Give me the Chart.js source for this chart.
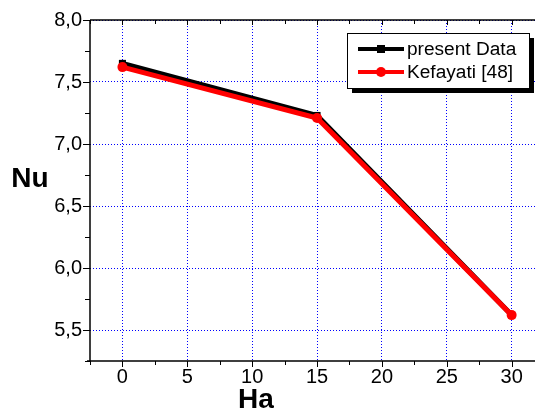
<!DOCTYPE html>
<html>
<head>
<meta charset="utf-8">
<script src="https://cdn.jsdelivr.net/npm/chart.js@4.4.1/dist/chart.umd.min.js"></script>
<style>
  html, body { margin: 0; padding: 0; background: #fff; overflow: hidden; }
  #wrap { width: 535px; height: 413px; position: relative; }
</style>
</head>
<body>
<div id="wrap"><canvas id="chart" width="535" height="413"></canvas></div>
<script>
// data
var haValues = [0, 15, 30];
var presentData = [7.65, 7.23, 5.62];
var kefayati = [7.62, 7.21, 5.62];
var xTicks = [0, 5, 10, 15, 20, 25, 30];
var yTicks = [5.5, 6.0, 6.5, 7.0, 7.5, 8.0];
var seriesNames = ['present Data', 'Kefayati [48]'];

var FONT = '"Liberation Sans", Arial, sans-serif';

function toPoints(xs, ys) {
  return xs.map(function(x, i) { return { x: x, y: ys[i] }; });
}

// axes, minor ticks, axis titles and the boxed legend
var framePlugin = {
  id: 'frame',
  afterDraw: function(chart) {
    var ctx = chart.ctx;
    var area = chart.chartArea;
    var xs = chart.scales.x, ys = chart.scales.y;
    ctx.save();
    ctx.strokeStyle = '#000';
    ctx.lineWidth = 1.5;
    ctx.beginPath();
    ctx.moveTo(area.left, area.top);
    ctx.lineTo(area.left, area.bottom);
    ctx.moveTo(area.left - 3, area.bottom);
    ctx.lineTo(chart.width, area.bottom);
    ctx.moveTo(area.left, area.top);
    ctx.lineTo(chart.width, area.top);
    ctx.stroke();

    ctx.lineWidth = 1;
    ctx.beginPath();
    // x ticks (major + minor), bottom outward, top inward
    for (var v = -2.5; v <= xs.max; v += 2.5) {
      var px = Math.round(xs.getPixelForValue(v)) + 0.5;
      var major = Math.abs(v % 5) < 0.01;
      ctx.moveTo(px, area.bottom);
      ctx.lineTo(px, area.bottom + (major ? 6 : 4));
      ctx.moveTo(px, area.top);
      ctx.lineTo(px, area.top + (major ? 5 : 4));
    }
    // y ticks outward
    for (var w = 5.25; w <= 8.001; w += 0.25) {
      var py = Math.round(ys.getPixelForValue(w)) + 0.5;
      var maj = Math.abs((w * 2) - Math.round(w * 2)) < 0.01;
      ctx.moveTo(area.left, py);
      ctx.lineTo(area.left - (maj ? 7 : 5), py);
    }
    ctx.stroke();

    // axis titles
    ctx.fillStyle = '#000';
    ctx.font = 'bold 28px ' + FONT;
    ctx.textAlign = 'center';
    ctx.textBaseline = 'middle';
    ctx.fillText('Nu', 30, 179);
    ctx.fillText('Ha', 256, 400);

    // legend box with shadow
    var lx = 347, ly = 33, lw = 182, lh = 55;
    ctx.fillStyle = '#000';
    ctx.fillRect(lx + 5, ly + 5, lw, lh);
    ctx.fillStyle = '#fff';
    ctx.fillRect(lx, ly, lw, lh);
    ctx.strokeStyle = '#000';
    ctx.lineWidth = 1;
    ctx.strokeRect(lx + 0.5, ly + 0.5, lw, lh);

    var rows = [
      { y: 49, color: '#000', square: true },
      { y: 72, color: '#ff0000', square: false }
    ];
    ctx.font = '18px ' + FONT;
    ctx.textAlign = 'left';
    rows.forEach(function(r, i) {
      ctx.strokeStyle = r.color;
      ctx.fillStyle = r.color;
      ctx.lineWidth = 4;
      ctx.beginPath();
      ctx.moveTo(358, r.y);
      ctx.lineTo(404, r.y);
      ctx.stroke();
      if (r.square) {
        ctx.fillRect(377, r.y - 4, 8, 8);
      } else {
        ctx.beginPath();
        ctx.arc(381, r.y, 5, 0, Math.PI * 2);
        ctx.fill();
      }
      ctx.fillStyle = '#000';
      // source text is drawn slightly wide
      ctx.save();
      ctx.translate(407, r.y + 1);
      ctx.scale(1.06, 1);
      ctx.fillText(seriesNames[i], 0, 0);
      ctx.restore();
    });
    ctx.restore();
  }
};

var ctx = document.getElementById('chart').getContext('2d');
var chart = new Chart(ctx, {
  type: 'scatter',
  data: {
    datasets: [
      {
        label: seriesNames[0],
        data: toPoints(haValues, presentData),
        showLine: true,
        borderColor: '#000',
        backgroundColor: '#000',
        borderWidth: 5,
        pointStyle: 'rect',
        pointRadius: 5,
        pointBorderWidth: 0,
        order: 2
      },
      {
        label: seriesNames[1],
        data: toPoints(haValues, kefayati),
        showLine: true,
        borderColor: '#ff0000',
        backgroundColor: '#ff0000',
        borderWidth: 5,
        pointStyle: 'circle',
        pointRadius: 5,
        pointBorderWidth: 0,
        order: 1
      }
    ]
  },
  options: {
    responsive: false,
    animation: false,
    layout: { autoPadding: false, padding: { top: 20, right: 0, left: 0, bottom: 0 } },
    plugins: { legend: { display: false }, tooltip: { enabled: false } },
    scales: {
      x: {
        type: 'linear',
        min: -2.5,
        max: 31.8,
        afterBuildTicks: function(s) { s.ticks = xTicks.map(function(v) { return { value: v }; }); },
        afterFit: function(s) { s.height = 52; s.paddingLeft = 0; s.paddingRight = 0; },
        ticks: {
          color: '#000',
          font: { family: FONT, size: 20 },
          padding: 4,
          maxRotation: 0,
          autoSkip: false
        },
        grid: { color: '#0000ff', lineWidth: 1, drawTicks: false },
        border: { display: false, dash: [1, 2] }
      },
      y: {
        type: 'linear',
        min: 5.25,
        max: 8.0,
        afterBuildTicks: function(s) { s.ticks = yTicks.map(function(v) { return { value: v }; }); },
        afterFit: function(s) { s.width = 90; s.paddingTop = 0; s.paddingBottom = 0; },
        ticks: {
          color: '#000',
          font: { family: FONT, size: 20 },
          padding: 8,
          autoSkip: false,
          callback: function(v) { return v.toFixed(1).replace('.', ','); }
        },
        grid: { color: '#0000ff', lineWidth: 1, drawTicks: false },
        border: { display: false, dash: [1, 2] }
      }
    }
  },
  plugins: [framePlugin]
});
</script>
</body>
</html>
